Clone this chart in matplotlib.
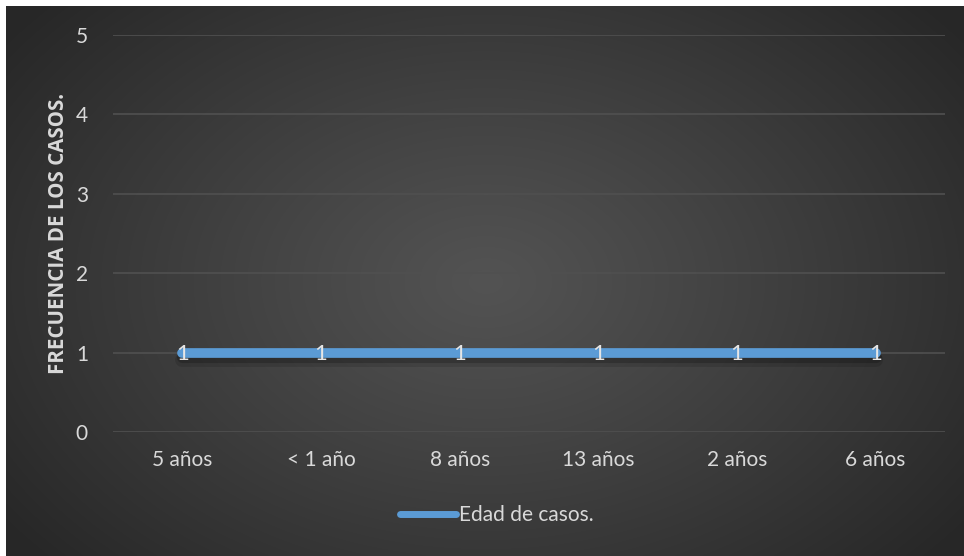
import numpy as np
import matplotlib.pyplot as plt
import matplotlib.patheffects as pe
from matplotlib.lines import Line2D

plt.rcParams['font.family'] = ['Lato', 'DejaVu Sans']

categorias = ['5 años', '< 1 año', '8 años', '13 años', '2 años', '6 años']
frecuencia = [1, 1, 1, 1, 1, 1]
serie = 'Edad de casos.'
titulo_y = 'FRECUENCIA DE LOS CASOS.'

texto = '#d9d9d9'
azul = '#5b9bd5'

fig = plt.figure(figsize=(9.64, 5.56), dpi=100)
fig.patch.set_facecolor('white')

# fondo oscuro con degradado radial
bg = fig.add_axes([6 / 964, 0, 958 / 964, 550 / 556])
bg.set_axis_off()
ny, nx = 275, 479
yy, xx = np.mgrid[0:ny, 0:nx]
r = np.sqrt(((xx - nx * 0.5) / (nx * 0.62)) ** 2 + ((yy - ny * 0.5) / (ny * 0.75)) ** 2)
r = np.clip(r, 0, 1)
c = 0.325 - (0.325 - 0.155) * r ** 1.1
bg.imshow(np.dstack([c, c, c]), aspect='auto', extent=[0, 1, 0, 1], interpolation='bilinear')
bg.set_xlim(0, 1)
bg.set_ylim(0, 1)

ax = fig.add_axes([113 / 964, 1 - 432 / 556, 832 / 964, 397 / 556])
ax.patch.set_alpha(0)
x = np.arange(len(categorias))

ax.plot(x, frecuencia, color=azul, lw=7, solid_capstyle='round', zorder=3,
        path_effects=[pe.SimpleLineShadow(offset=(0, -5), shadow_color='black', alpha=0.12, linewidth=10),
                      pe.SimpleLineShadow(offset=(0, -3), shadow_color='black', alpha=0.2, linewidth=8),
                      pe.Normal()])

for xi, v in zip(x, frecuencia):
    ax.text(xi, v - 0.02, str(v), ha='center', va='center', color='#e6e6e6', fontsize=16, zorder=4)

ax.set_xlim(-0.5, len(categorias) - 0.5)
ax.set_ylim(0, 5)
ax.set_yticks(range(0, 6))
ax.set_xticks(x)
ax.set_xticklabels(categorias)
ax.grid(axis='y', color='#505050', lw=1.2)
ax.set_axisbelow(True)
for s in ax.spines.values():
    s.set_visible(False)
ax.tick_params(length=0, colors=texto, labelsize=15)
ax.tick_params(axis='x', pad=13)
ax.tick_params(axis='y', pad=18)
ax.set_ylabel(titulo_y, color=texto, fontsize=14.8, fontweight='bold',
              family=['Open Sans', 'DejaVu Sans'])
ax.yaxis.set_label_coords(-0.053, 0.5)

handle = Line2D([], [], color=azul, lw=5, solid_capstyle='round')
ax.legend([handle], [serie], loc='center', bbox_to_anchor=(0.461, -0.21), frameon=False,
          fontsize=15, handlelength=2.7, handletextpad=0.15, labelcolor=texto)

fig.savefig('out.png', dpi=100, facecolor=fig.get_facecolor())
